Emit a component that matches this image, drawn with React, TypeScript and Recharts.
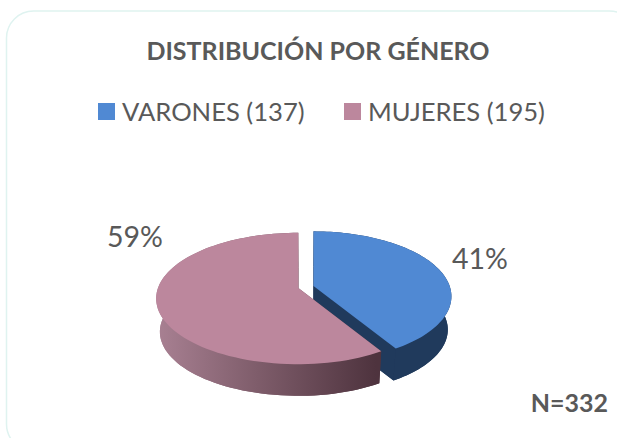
import React from 'react';
import { PieChart, Pie, Legend } from 'recharts';

const categories = ['VARONES (137)', 'MUJERES (195)'];
const counts = [137, 195];
const topColors = ['#5089d3', '#bc879d'];
const wallColors = ['#203a5c', 'url(#mujeresWall)'];
const labelCenters = [
  { x: 480, y: 258 },
  { x: 135, y: 236 },
];

const data = categories.map((name, i) => ({ name, value: counts[i], fill: topColors[i], wall: wallColors[i] }));

const FONT = 'Lato, sans-serif';
const TEXT = '#595959';
const TILT = 0.455;
const PERSPECTIVE = 0.16;
const EXPLODE = 0.057;
const DEPTH = 33.5;
const BASE_SCALE = 0.975;
const RIGHT_SQUEEZE = 0.975;

const rad = (deg: number) => (deg * Math.PI) / 180;

// squashes the flat pie into the tilted 3D look of the original
const SliceShape = (props: any) => {
  const { cx, cy, outerRadius: r, startAngle, endAngle, midAngle, fill, payload } = props;
  const du = EXPLODE * Math.cos(rad(midAngle));
  const dv = -EXPLODE * Math.sin(rad(midAngle));

  const top = (u: number, v: number) => {
    const w = 1 - PERSPECTIVE * (v + dv);
    const x = (r * u) / w + r * du;
    return [x > 0 ? x * RIGHT_SQUEEZE : x, (r * TILT * (v + dv)) / w];
  };
  const toTop = (p: number[]) => `${cx + p[0]},${cy + p[1]}`;
  const toBase = (p: number[]) => `${cx + p[0] * BASE_SCALE},${cy + p[1] * BASE_SCALE + DEPTH}`;

  const rim: number[][] = [];
  const steps = 90;
  for (let i = 0; i <= steps; i++) {
    const a = rad(startAngle + ((endAngle - startAngle) * i) / steps);
    rim.push(top(Math.cos(a), -Math.sin(a)));
  }
  const apex = top(0, 0);
  const last = rim[rim.length - 1];
  const topFace = [apex, ...rim].map(toTop).join(' ');
  const baseFace = [apex, ...rim].map(toBase).join(' ');
  const strip = [...rim.map(toTop), ...[...rim].reverse().map(toBase)].join(' ');
  const cutStart = [toTop(apex), toTop(rim[0]), toBase(rim[0]), toBase(apex)].join(' ');
  const cutEnd = [toTop(apex), toTop(last), toBase(last), toBase(apex)].join(' ');

  return (
    <g>
      <polygon points={baseFace} fill={payload.wall} />
      <polygon points={cutStart} fill={payload.wall} />
      <polygon points={cutEnd} fill={payload.wall} />
      <polygon points={strip} fill={payload.wall} />
      <polygon points={topFace} fill={fill} />
    </g>
  );
};

const renderLabel = (props: any) => {
  const pos = labelCenters[props.index];
  return (
    <text x={pos.x} y={pos.y} textAnchor="middle" dominantBaseline="central" fontFamily={FONT} fontSize={28.5} fill={TEXT}>
      {`${Math.round(props.percent * 100)}%`}
    </text>
  );
};

const renderLegend = (props: any) => (
  <div style={{ position: 'relative', height: 34, fontFamily: FONT, fontSize: 25.6, color: TEXT }}>
    {props.payload.map((item: any, i: number) => (
      <div key={item.value} style={{ position: 'absolute', left: i === 0 ? 0 : 246, top: 0, display: 'flex', alignItems: 'center', whiteSpace: 'nowrap' }}>
        <span style={{ width: 17, height: 17, background: item.color, marginRight: 7, display: 'inline-block' }} />
        {item.value}
      </div>
    ))}
  </div>
);

export default function App() {
  return (
    <div style={{ position: 'absolute', left: 0, top: 0, width: 617, height: 438, overflow: 'hidden', background: '#fff' }}>
      <PieChart width={617} height={438} margin={{ top: 0, right: 0, bottom: 0, left: 0 }}>
        <defs>
          <linearGradient id="mujeresWall" gradientUnits="userSpaceOnUse" x1="158" y1="0" x2="376" y2="0">
            <stop offset="0%" stopColor="#a88092" />
            <stop offset="45%" stopColor="#7f5d6b" />
            <stop offset="100%" stopColor="#4e333e" />
          </linearGradient>
        </defs>
        <rect x={6.5} y={11} width={630} height={440} rx={27} ry={27} fill="#fff" stroke="#dff3f0" strokeWidth={1.5} />
        <text x={318} y={60} textAnchor="middle" fontFamily={FONT} fontWeight={700} fontSize={25} fill={TEXT}>
          DISTRIBUCIÓN POR GÉNERO
        </text>
        <Legend content={renderLegend} itemSorter={null} wrapperStyle={{ left: 98, top: 96, width: 480, bottom: 'auto' }} />
        <Pie
          data={data}
          dataKey="value"
          nameKey="name"
          cx={306}
          cy={287}
          outerRadius={140}
          startAngle={90}
          endAngle={-270}
          stroke="none"
          shape={SliceShape}
          label={renderLabel}
          labelLine={false}
          isAnimationActive={false}
        />
        <text x={569.5} y={412} textAnchor="middle" fontFamily={FONT} fontWeight={700} fontSize={25} fill={TEXT}>
          N=332
        </text>
      </PieChart>
    </div>
  );
}
